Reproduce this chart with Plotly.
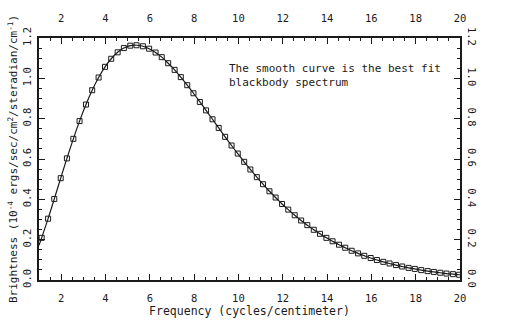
import plotly.graph_objects as go

# Measured spectrum: frequency (cm^-1) and brightness (1e-4 erg/s/cm^2/sr/cm^-1)
freq = [1.12, 1.41, 1.69, 1.98, 2.26, 2.55, 2.83, 3.12, 3.40, 3.69,
        3.98, 4.26, 4.55, 4.83, 5.12, 5.40, 5.69, 5.97, 6.26, 6.54,
        6.83, 7.12, 7.40, 7.69, 7.97, 8.26, 8.54, 8.83, 9.11, 9.40,
        9.69, 9.97, 10.26, 10.54, 10.83, 11.11, 11.40, 11.68, 11.97, 12.25,
        12.54, 12.83, 13.11, 13.40, 13.68, 13.97, 14.25, 14.54, 14.82, 15.11,
        15.40, 15.68, 15.97, 16.25, 16.54, 16.82, 17.11, 17.39, 17.68, 17.96,
        18.25, 18.54, 18.82, 19.11, 19.39, 19.68, 19.96]
brightness = [0.209, 0.304, 0.402, 0.505, 0.603, 0.700, 0.788, 0.870, 0.941, 1.004,
              1.057, 1.097, 1.129, 1.150, 1.162, 1.164, 1.159, 1.147, 1.128, 1.105,
              1.075, 1.042, 1.006, 0.966, 0.926, 0.883, 0.841, 0.797, 0.754, 0.710,
              0.667, 0.627, 0.586, 0.548, 0.510, 0.475, 0.440, 0.409, 0.377, 0.349,
              0.321, 0.295, 0.272, 0.249, 0.229, 0.209, 0.192, 0.175, 0.160, 0.145,
              0.132, 0.120, 0.109, 0.099, 0.090, 0.082, 0.074, 0.067, 0.060, 0.055,
              0.049, 0.044, 0.040, 0.036, 0.032, 0.029, 0.026]

# Best-fit blackbody curve (end points at the axis limits)
fit_freq = [1.00] + freq + [20.00]
fit_brightness = [0.172] + brightness + [0.026]

x_ticks = [2, 4, 6, 8, 10, 12, 14, 16, 18, 20]
y_ticks = [0.0, 0.2, 0.4, 0.6, 0.8, 1.0, 1.2]

FONT = "DejaVu Sans Mono"
INK = "#1a1a1a"

fig = go.Figure()
fig.add_trace(go.Scatter(
    x=fit_freq, y=fit_brightness, mode="lines", line_shape="spline",
    line=dict(color=INK, width=1.2), showlegend=False, hoverinfo="skip"))
fig.add_trace(go.Scatter(
    x=freq, y=brightness, mode="markers",
    marker=dict(symbol="square-open", size=5, color=INK,
                line=dict(width=1, color=INK)),
    showlegend=False))
# companion trace for the top/right labelled axes
fig.add_trace(go.Scatter(x=[1], y=[0], xaxis="x2", yaxis="y2", mode="markers",
                         marker=dict(opacity=0), showlegend=False, hoverinfo="skip"))

axis_common = dict(showgrid=False, zeroline=False, showline=True, linecolor=INK,
                   linewidth=1.5, ticks="inside", tickcolor=INK, tickwidth=1,
                   ticklen=6, tickfont=dict(family=FONT, size=10.5, color=INK))

def minor_ticks(step):
    return dict(dtick=step, tick0=0, ticks="inside", ticklen=3,
                tickcolor=INK, tickwidth=1)

fig.update_layout(
    width=505, height=324,
    margin=dict(l=37, r=45, t=24, b=38),
    paper_bgcolor="white", plot_bgcolor="white",
    font=dict(family=FONT, color=INK),
    xaxis=dict(range=[1, 20], tickvals=x_ticks, ticktext=[str(v) for v in x_ticks],
               minor=minor_ticks(0.5), ticklabelstandoff=8,
               title=dict(text="Frequency (cycles/centimeter)",
                          font=dict(family=FONT, size=11.5, color=INK), standoff=0),
               mirror=True, **axis_common),
    xaxis2=dict(range=[1, 20], overlaying="x", side="top", tickvals=x_ticks,
                ticktext=[str(v) for v in x_ticks], minor=minor_ticks(0.5),
                ticklabelstandoff=10, **axis_common),
    yaxis=dict(range=[0, 1.2], tickvals=y_ticks, ticktext=[f"{v:.1f}" for v in y_ticks],
               tickangle=-90, minor=minor_ticks(0.05), ticklabelstandoff=2,
               title=dict(text="Brightness (10<sup>-4</sup> ergs/sec/cm<sup>2</sup>/steradian/cm<sup>-1</sup>)",
                          font=dict(family=FONT, size=11, color=INK), standoff=1),
               mirror=True, **axis_common),
    yaxis2=dict(range=[0, 1.2], overlaying="y", side="right", tickvals=y_ticks,
                ticktext=[f"{v:.1f}" for v in y_ticks], tickangle=90,
                minor=minor_ticks(0.05), ticklabelstandoff=2, **axis_common),
    annotations=[dict(
        x=9.5, y=1.09, xref="x", yref="y", xanchor="left", yanchor="top",
        align="left", showarrow=False,
        text="The smooth curve is the best fit<br>blackbody spectrum",
        font=dict(family=FONT, size=11, color=INK))],
)

fig.write_html("out.html")
